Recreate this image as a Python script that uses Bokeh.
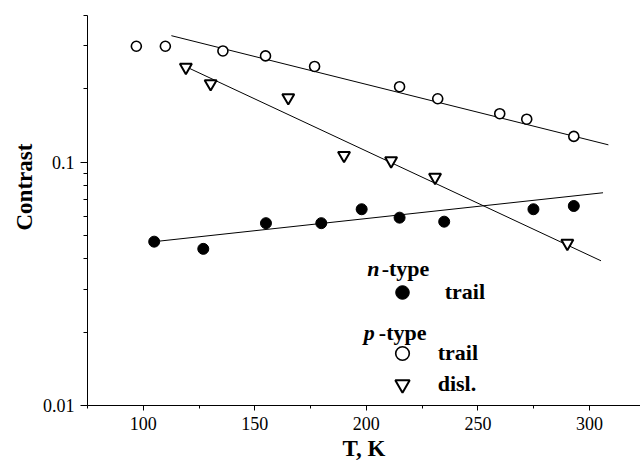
import math
from bokeh.plotting import figure
from bokeh.models import (FixedTicker, Label, Legend, LegendItem, Range1d, Title)
from bokeh.embed import file_html
from bokeh.resources import INLINE

# ---- data ----
p_trail_T = [96.9, 109.9, 135.7, 154.8, 176.8, 214.9, 232.0, 259.8, 271.9, 293.0]
p_trail_C = [0.299, 0.299, 0.286, 0.273, 0.247, 0.204, 0.182, 0.158, 0.150, 0.1275]

p_disl_T = [119.1, 130.2, 165.0, 190.0, 211.1, 230.8, 290.1]
p_disl_C = [0.245, 0.210, 0.184, 0.1065, 0.1013, 0.0866, 0.0464]

n_trail_T = [104.9, 126.9, 155.0, 179.8, 197.9, 214.9, 234.9, 274.9, 293.0]
n_trail_C = [0.0471, 0.0440, 0.0561, 0.0561, 0.0640, 0.0591, 0.0569, 0.0640, 0.0660]

# fitted lines (end points)
p_trail_fit_T = [112.6, 308.5]
p_trail_fit_C = [0.3305, 0.1177]
p_disl_fit_T = [119.7, 305.2]
p_disl_fit_C = [0.245, 0.0393]
n_trail_fit_T = [104.9, 306.1]
n_trail_fit_C = [0.0471, 0.0748]

x_major = [100, 150, 200, 250, 300]
x_minor = [75, 125, 175, 225, 275]
y_major = [0.01, 0.1]
y_minor = [0.02, 0.03, 0.04, 0.05, 0.06, 0.07, 0.08, 0.09, 0.2, 0.3, 0.4]
y_labels = {0.01: "0.01", 0.1: "0.1"}

FONT = "Liberation Serif"

p = figure(width=640, height=465, output_backend="svg", toolbar_location=None,
           y_axis_type="log",
           x_range=Range1d(75, 322.9), y_range=Range1d(0.01, 0.4),
           min_border_left=87, min_border_right=0, min_border_top=15,
           min_border_bottom=60)
p.outline_line_color = None
p.xgrid.visible = False
p.ygrid.visible = False
p.background_fill_color = "white"
p.border_fill_color = "white"

# lines
p.line(p_trail_fit_T, p_trail_fit_C, line_color="black", line_width=1)
p.line(p_disl_fit_T, p_disl_fit_C, line_color="black", line_width=1)
p.line(n_trail_fit_T, n_trail_fit_C, line_color="black", line_width=1)

# markers
r_open = p.scatter(p_trail_T, p_trail_C, marker="circle", size=10,
                   fill_color="white", line_color="black", line_width=1.6)
r_tri = p.scatter(p_disl_T, p_disl_C, marker="inverted_triangle", size=12,
                  fill_color="white", line_color="black", line_width=2)
r_fill = p.scatter(n_trail_T, n_trail_C, marker="circle", size=11,
                   fill_color="black", line_color="black", line_width=1)

# axes
xa = p.xaxis[0]
xa.ticker = FixedTicker(ticks=x_major, minor_ticks=x_minor)
xa.axis_label = "T, K"
xa.axis_label_text_font = FONT
xa.axis_label_text_font_style = "bold"
xa.axis_label_text_font_size = "23px"
xa.axis_label_standoff = 3
xa.major_label_text_font = FONT
xa.major_label_text_font_size = "18px"
xa.major_label_standoff = 6
xa.major_tick_in = 0
xa.major_tick_out = 5
xa.minor_tick_in = 0
xa.minor_tick_out = 3

ya = p.yaxis[0]
ya.ticker = FixedTicker(ticks=y_major, minor_ticks=y_minor)
ya.major_label_overrides = y_labels
ya.major_label_text_font = FONT
ya.major_label_text_font_size = "18px"
ya.major_label_standoff = 6
ya.major_tick_in = 0
ya.major_tick_out = 7
ya.minor_tick_in = 0
ya.minor_tick_out = 4

for ax in (xa, ya):
    ax.axis_line_color = "black"
    ax.major_tick_line_color = "black"
    ax.minor_tick_line_color = "black"
    ax.major_label_text_color = "black"
    ax.axis_label_text_color = "black"

# y axis title, placed off-centre as in the original
p.add_layout(Title(text="Contrast", align="left", offset=175, standoff=5,
                   text_font=FONT, text_font_style="bold",
                   text_font_size="23px", text_color="black"), "left")

# legend headers
def header(x, y, italic_letter, rest_dx):
    p.add_layout(Label(x=x, y=y, x_units="screen", y_units="screen",
                       text=italic_letter, text_font=FONT,
                       text_font_style="bold italic", text_font_size="22px",
                       text_baseline="alphabetic", text_color="black"))
    p.add_layout(Label(x=x + rest_dx, y=y, x_units="screen", y_units="screen",
                       text="-type", text_font=FONT,
                       text_font_style="bold", text_font_size="22px",
                       text_baseline="alphabetic", text_color="black"))

header(279.7, 137, "n", 14.5)
header(276.3, 73, "p", 15)

def make_legend(label, renderer, cx, cy, gsize, label_x):
    lg = Legend(items=[LegendItem(label=label, renderers=[renderer])],
                location=(cx - gsize / 2, cy - gsize / 2),
                label_standoff=int(round(label_x - (cx + gsize / 2))),
                glyph_width=gsize, glyph_height=gsize, label_height=gsize,
                spacing=0, padding=0, margin=0, border_line_color=None,
                background_fill_alpha=0, label_text_font=FONT,
                label_text_font_style="bold", label_text_font_size="22px",
                label_text_color="black")
    p.add_layout(lg)

make_legend("trail", r_fill, 314.7, 113.3, 34, 358)
make_legend("trail", r_open, 314.7, 51.7, 34, 350.3)
make_legend("disl.", r_tri, 314.7, 21, 36, 350.3)

open("out.html", "w").write(file_html(p, INLINE))
